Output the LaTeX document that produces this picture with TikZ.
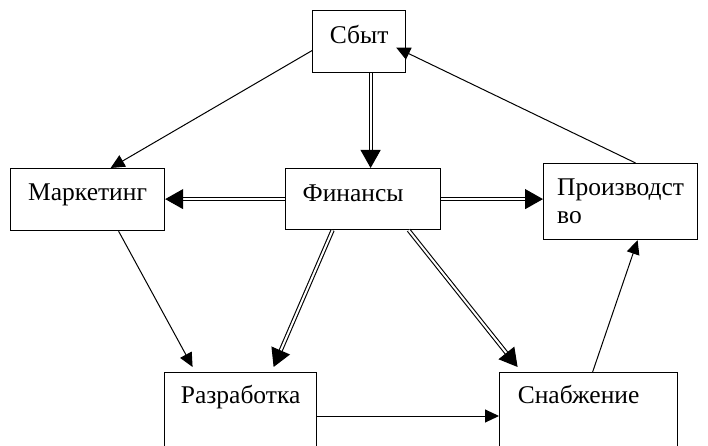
\documentclass[tikz,border=0pt]{standalone}
\usepackage{fontspec}
\setmainfont{Liberation Serif}
\usetikzlibrary{arrows.meta}

\begin{document}
\begin{tikzpicture}[x=1pt, y=-1pt,
    box/.style={draw, line width=1.2pt, anchor=north west, inner sep=0pt,
        font=\fontsize{25.5}{28}\selectfont},
    thin/.style={line width=1pt, -{Triangle[length=14pt, width=13pt]}},
    dbl/.style={double=white, double distance=2pt, line width=1.1pt,
        -{Triangle[length=18pt, width=20pt]}}]
    \useasboundingbox (0,0) rectangle (708,446);
    \clip (0,0) rectangle (708,446);
    \node[box, minimum width=93pt, text height=33pt, text depth=29pt] (sbyt) at (312,10) {Сбыт};
    \node[box, minimum width=154pt, text height=32pt, text depth=30pt] (mark) at (10,168) {Маркетинг};
    \node[box, minimum width=155pt, text height=33pt, text depth=28pt] (fin) at (285,168) {Финансы\hspace*{20pt}};
    \node[box, minimum width=154pt, minimum height=76pt, align=left] (prod) at (543,163) {Производст\\во};
    \node[box, minimum width=152pt, text height=31pt, text depth=60pt] (razr) at (164,372) {Разработка};
    \node[box, minimum width=178pt, text height=31pt, text depth=60pt] (snab) at (499,372) {Снабжение\hspace*{20pt}};

    \draw[thin] ([yshift=-9pt]sbyt.west) -- ([xshift=23pt]mark.north);
    \draw[thin] ([xshift=15pt]prod.north) -- ([xshift=-10pt, yshift=-6pt]sbyt.east);
    \draw[thin] ([xshift=31pt]mark.south) -- ([xshift=-48pt, yshift=5pt]razr.north);
    \draw[thin] ([yshift=-44pt]razr.north east) -- ([yshift=-44pt]razr.north east -| snab.west);
    \draw[thin] ([xshift=4pt]snab.north) -- ([xshift=17pt]prod.south);

    \draw[dbl] ([xshift=11.5pt]sbyt.south) -- ([xshift=11.5pt]sbyt.south |- fin.north);
    \draw[dbl] (fin.west) -- (fin.west -| mark.east);
    \draw[dbl] (fin.east) -- (fin.east -| prod.west);
    \draw[dbl] ([xshift=-30.5pt]fin.south) -- ([xshift=33pt, yshift=5pt]razr.north);
    \draw[dbl] ([xshift=45.5pt]fin.south) -- ([xshift=-71pt, yshift=5pt]snab.north);
\end{tikzpicture}
\end{document}
